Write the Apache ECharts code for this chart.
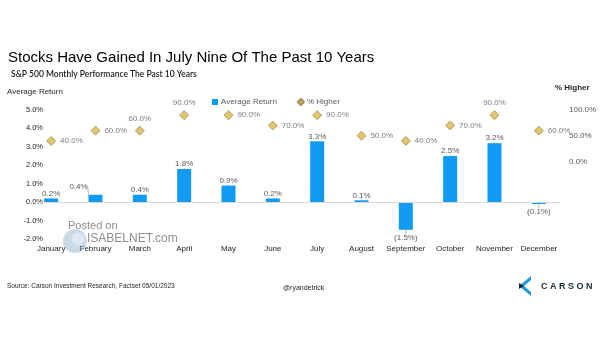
<!DOCTYPE html>
<html>
<head>
<meta charset="utf-8">
<script src="https://cdn.jsdelivr.net/npm/echarts@6/dist/echarts.min.js"></script>
<style>
html,body{margin:0;padding:0;background:#fff;}
#chart{width:605px;height:341px;}
</style>
</head>
<body>
<div id="chart"></div>
<script>
const months = ["January","February","March","April","May","June","July","August","September","October","November","December"];
const avgReturn = [0.2, 0.4, 0.4, 1.8, 0.9, 0.2, 3.3, 0.1, -1.5, 2.5, 3.2, -0.1];
const pctHigher = [40, 60, 60, 90, 90, 70, 90, 50, 40, 70, 90, 60];
const leftTicks = { min: -2, max: 5, interval: 1 };
const rightTicks = { min: -150, max: 100, interval: 50 };

const barLabelShift = { 1: { dx: -17, dy: -3 } };
const scatterLabelTop = { 2: true, 3: true, 10: true };

const chart = echarts.init(document.getElementById('chart'), null, {renderer: 'canvas'});

const barData = avgReturn.map((v, i) => ({
  value: v,
  label: { position: v < 0 ? 'bottom' : 'top', distance: v < 0 ? 4 : 1 }
}));
const scatterData = pctHigher.map((v, i) => ({
  value: v,
  label: scatterLabelTop[i] ? { position: 'top', distance: 3 } : { position: 'right', distance: 4 }
}));

const option = {
  backgroundColor: '#ffffff',
  animation: false,
  textStyle: { fontFamily: 'Liberation Sans, Arial, sans-serif' },
  legend: {
    left: 207, top: 93,
    itemWidth: 6, itemHeight: 6, itemGap: 20,
    textStyle: { fontSize: 8, color: '#595959', padding: [0, 0, 0, -2] },
    data: [
      { name: 'Average Return', icon: 'rect' },
      { name: '% Higher', icon: 'diamond' }
    ]
  },
  grid: { left: 29, width: 532, top: 110, height: 129 },
  xAxis: {
    type: 'category',
    data: months,
    axisLine: { show: false, onZero: false },
    axisTick: { show: false },
    axisLabel: { fontSize: 8, color: '#262626', margin: 6, interval: 0 }
  },
  yAxis: [
    {
      type: 'value', position: 'left',
      min: leftTicks.min, max: leftTicks.max, interval: leftTicks.interval,
      splitLine: { show: false },
      axisLine: { show: false }, axisTick: { show: false },
      axisLabel: { fontSize: 7.5, color: '#262626', margin: -14,
        formatter: v => v.toFixed(1) + '%' }
    },
    {
      type: 'value', position: 'right',
      min: rightTicks.min, max: rightTicks.max, interval: rightTicks.interval,
      splitLine: { show: false },
      axisLine: { show: false }, axisTick: { show: false },
      axisLabel: { fontSize: 8, color: '#595959', margin: 8,
        formatter: v => v >= 0 ? v.toFixed(1) + '%' : '' }
    }
  ],
  series: [
    {
      name: 'Average Return',
      type: 'bar',
      yAxisIndex: 0,
      data: barData,
      barWidth: 14,
      itemStyle: { color: '#0F9BF2' },
      label: {
        show: true, fontSize: 8, color: '#595959',
        formatter: p => p.value < 0 ? '(' + Math.abs(p.value).toFixed(1) + '%)' : p.value.toFixed(1) + '%'
      },
      labelLine: { show: true, lineStyle: { color: '#a6a6a6', width: 0.8 } },
      labelLayout: p => barLabelShift[p.dataIndex] ? { dx: barLabelShift[p.dataIndex].dx, dy: barLabelShift[p.dataIndex].dy } : {},
      markLine: {
        silent: true, symbol: 'none',
        label: { show: false },
        lineStyle: { color: '#d9d9d9', type: 'solid', width: 1 },
        data: [{ yAxis: 0 }]
      },
      z: 2
    },
    {
      name: '% Higher',
      type: 'scatter',
      yAxisIndex: 1,
      data: scatterData,
      symbol: 'diamond',
      symbolSize: 9,
      itemStyle: { color: '#D9B84A', borderColor: '#8C7A3A', borderWidth: 0.8 },
      label: {
        show: true, fontSize: 8, color: '#595959',
        formatter: p => p.value.toFixed(1) + '%'
      },
      z: 3
    }
  ],
  graphic: [
    { type: 'text', left: 8, top: 50, style: { text: 'Stocks Have Gained In July Nine Of The Past 10 Years', font: '15px "Liberation Sans", Arial, sans-serif', fill: '#000' } },
    { type: 'text', left: 11, top: 70, style: { text: 'S&P 500 Monthly Performance The Past 10 Years', font: '600 8.5px Lato, "Open Sans", sans-serif', fill: '#1a1a1a' } },
    { type: 'text', left: 7, top: 88, style: { text: 'Average Return', font: '8px "Liberation Sans", Arial, sans-serif', fill: '#262626' } },
    { type: 'text', left: 555, top: 84, style: { text: '% Higher', font: 'bold 8px "Liberation Sans", Arial, sans-serif', fill: '#262626' } },
    { type: 'circle', shape: { cx: 75, cy: 241, r: 12 }, style: { fill: 'rgba(110,150,190,0.35)' }, z: 10 },
    { type: 'circle', shape: { cx: 78, cy: 239, r: 6 }, style: { fill: 'rgba(235,242,250,0.6)' }, z: 11 },
    { type: 'text', left: 68, top: 220, style: { text: 'Posted on', font: '11px "Liberation Sans", Arial, sans-serif', fill: 'rgba(120,120,120,0.85)' }, z: 10 },
    { type: 'text', left: 87, top: 233, style: { text: 'ISABELNET.com', font: '12px "Liberation Sans", Arial, sans-serif', fill: 'rgba(120,120,120,0.85)' }, z: 10 },
    { type: 'text', left: 7, top: 283, style: { text: 'Source: Carson Investment Research, Factset 05/01/2023', font: '6.5px "Liberation Sans", Arial, sans-serif', fill: '#262626' } },
    { type: 'text', left: 283, top: 285, style: { text: '@ryandetrick', font: '7px "Liberation Sans", Arial, sans-serif', fill: '#262626' } },
    { type: 'polygon', shape: { points: [[531,276],[519,286],[531,296],[531,292],[524,286],[531,280]] }, style: { fill: '#1E9BE0' } },
    { type: 'polygon', shape: { points: [[519,283],[524,286],[519,289]] }, style: { fill: '#1a2a3a' } },
    { type: 'text', left: 541, top: 282, style: { text: 'C A R S O N', font: 'bold 9px "Liberation Sans", Arial, sans-serif', fill: '#1a2a3a' } }
  ]
};
chart.setOption(option);
</script>
</body>
</html>
